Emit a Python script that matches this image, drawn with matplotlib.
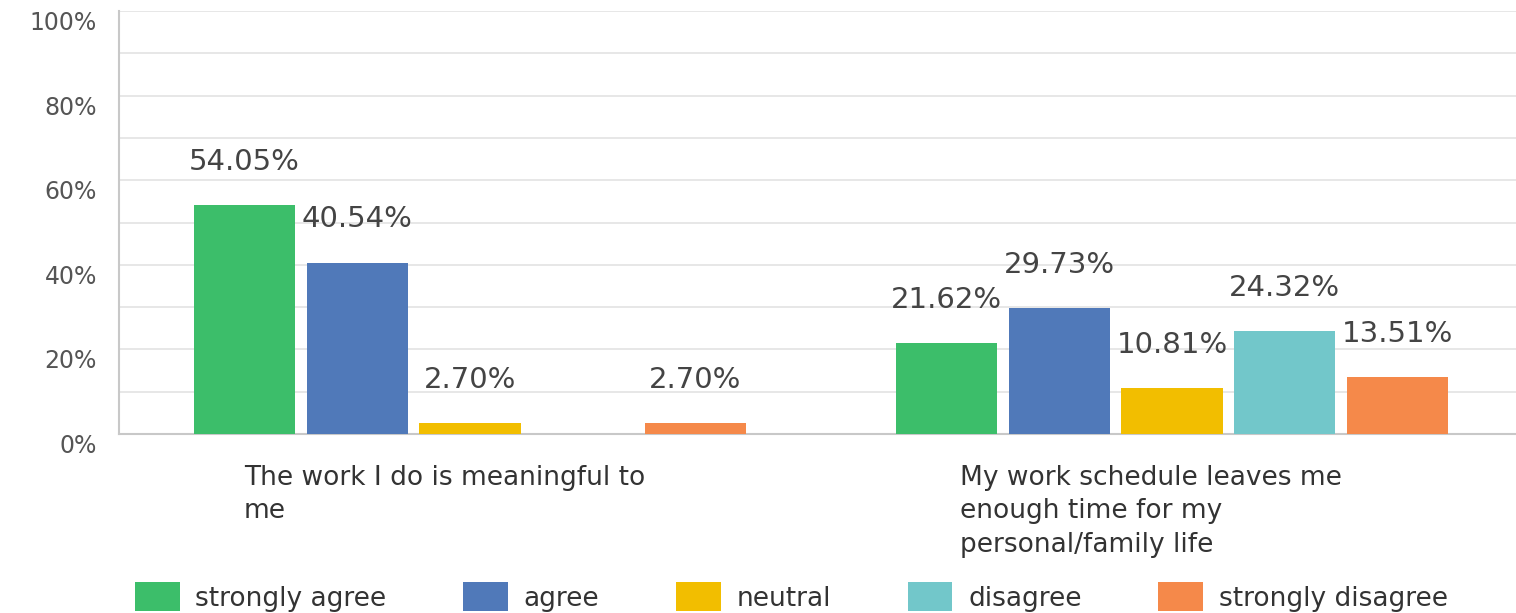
import matplotlib.pyplot as plt
import numpy as np
from matplotlib.patches import Patch
from matplotlib.ticker import MultipleLocator, FuncFormatter
from matplotlib.transforms import blended_transform_factory

plt.rcParams['font.family'] = ['DejaVu Sans']

questions = ["The work I do is meaningful to\nme",
             "My work schedule leaves me\nenough time for my\npersonal/family life"]
answers = ["strongly agree", "agree", "neutral", "disagree", "strongly disagree"]
colors = ["#3cbe6a", "#5079b9", "#f2be00", "#72c7ca", "#f5894a"]

# percent of respondents, one list per answer (same order as questions)
strongly_agree = [54.05, 21.62]
agree = [40.54, 29.73]
neutral = [2.70, 10.81]
disagree = [0.0, 24.32]
strongly_disagree = [2.70, 13.51]
values = [strongly_agree, agree, neutral, disagree, strongly_disagree]

fig = plt.figure(figsize=(15.16, 6.13), dpi=100)
ax = fig.add_axes([0.0785, 0.292, 0.9215, 0.69])

ind = np.arange(len(questions))
width = 0.144
step = 0.1605

for i, (vals, col) in enumerate(zip(values, colors)):
    pos = ind + (i - 2) * step
    bars = ax.bar(pos, vals, width, color=col, zorder=3)
    for b, v in zip(bars, vals):
        if v == 0:
            continue
        ax.annotate("%.2f%%" % v, (b.get_x() + b.get_width() / 2, v),
                    xytext=(0, 31), textcoords="offset points",
                    ha="center", va="center", fontsize=21, color="#444444")

ax.set_xlim(-0.5, 1.49)
ax.set_ylim(0, 100)
ax.yaxis.set_major_locator(MultipleLocator(20))
ax.yaxis.set_minor_locator(MultipleLocator(10))
ax.yaxis.set_major_formatter(FuncFormatter(lambda v, p: "%d%%" % v))
ax.grid(True, which="both", axis="y", color="#e3e3e3", lw=1.2, zorder=0)
ax.set_xticks([])
ax.tick_params(axis="y", which="both", length=0, pad=16, labelsize=17,
               labelcolor="#555555")
for lab in ax.get_yticklabels():
    lab.set_verticalalignment("top")
for sp in ["top", "right"]:
    ax.spines[sp].set_visible(False)
ax.spines["left"].set_color("#c8c8c8")
ax.spines["bottom"].set_color("#c8c8c8")
ax.spines["left"].set_linewidth(1.5)
ax.spines["bottom"].set_linewidth(1.5)

# question text under each group
trans = blended_transform_factory(ax.transData, ax.transAxes)
label_x = [-0.322, 0.698]
for x, q in zip(label_x, questions):
    ax.text(x, -0.073, q, transform=trans, ha="left", va="top",
            fontsize=19, color="#333333", linespacing=1.38)

handles = [Patch(facecolor=c, label=a) for a, c in zip(answers, colors)]
fig.legend(handles=handles, loc="center", bbox_to_anchor=(0.522, 0.026),
           ncol=5, frameon=False, fontsize=19, handlelength=1.7,
           handleheight=1.3, columnspacing=2.9, handletextpad=0.6,
           labelcolor="#333333")

plt.savefig("out.png", dpi=100)
plt.close()
